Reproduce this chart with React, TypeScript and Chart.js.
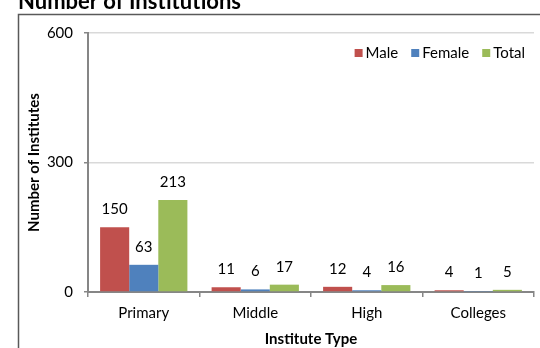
import React, { useEffect, useRef } from "react";
import { Chart, registerables } from "chart.js";

Chart.register(...registerables);

const categories = ["Primary", "Middle", "High", "Colleges"];
const maleValues = [150, 11, 12, 4];
const femaleValues = [63, 6, 4, 1];
const totalValues = [213, 17, 16, 5];
const seriesNames = ["Male", "Female", "Total"];
const seriesColors = ["#C0504D", "#4F81BD", "#9BBB59"];
const yMin = 0;
const yMax = 600;
const yStep = 300;
const chartTitle = "Number of Institutions";
const xTitle = "Institute Type";
const yTitle = "Number of Institutes";

const FONT = "Lato";
const FS = 15;

const framePlugin = {
  id: "frameTitle",
  afterDraw(chart: any) {
    const ctx = chart.ctx;
    ctx.save();
    ctx.strokeStyle = "#595959";
    ctx.lineWidth = 1.5;
    ctx.beginPath();
    ctx.moveTo(18.5, 348);
    ctx.lineTo(18.5, 14.5);
    ctx.lineTo(540, 14.5);
    ctx.stroke();
    ctx.fillStyle = "#000";
    ctx.font = `bold 22px ${FONT}`;
    ctx.textAlign = "left";
    ctx.textBaseline = "alphabetic";
    ctx.fillText(chartTitle, 18, 9);
    ctx.restore();
  },
};

const labelPlugin = {
  id: "valueLabels",
  afterDatasetsDraw(chart: any) {
    const ctx = chart.ctx;
    ctx.save();
    ctx.fillStyle = "#000";
    ctx.font = `${FS}px ${FONT}`;
    ctx.textAlign = "center";
    ctx.textBaseline = "middle";
    chart.data.datasets.forEach((ds: any, i: number) => {
      const meta = chart.getDatasetMeta(i);
      meta.data.forEach((el: any, j: number) => {
        ctx.fillText(String(ds.data[j]), el.x, el.y - 18);
      });
    });
    ctx.restore();
  },
};

const legendPlugin = {
  id: "customLegend",
  afterDraw(chart: any) {
    const ctx = chart.ctx;
    ctx.save();
    ctx.font = `${FS}px ${FONT}`;
    ctx.textBaseline = "middle";
    ctx.textAlign = "left";
    const box = 8;
    const gapBoxText = 3;
    const gapItems = 13;
    const widths = seriesNames.map((n) => box + gapBoxText + ctx.measureText(n).width);
    const total = widths.reduce((a, b) => a + b, 0) + gapItems * (seriesNames.length - 1);
    let x = 525 - total;
    const yc = 53;
    seriesNames.forEach((n, i) => {
      ctx.fillStyle = seriesColors[i];
      ctx.fillRect(x, yc - box / 2, box, box);
      ctx.fillStyle = "#000";
      ctx.fillText(n, x + box + gapBoxText, yc);
      x += widths[i] + gapItems;
    });
    ctx.restore();
  },
};

export default function App() {
  const ref = useRef<HTMLCanvasElement>(null);
  useEffect(() => {
    const values = [maleValues, femaleValues, totalValues];
    const chart = new Chart(ref.current as HTMLCanvasElement, {
      type: "bar",
      data: {
        labels: categories,
        datasets: seriesNames.map((name, i) => ({
          label: name,
          data: values[i],
          backgroundColor: seriesColors[i],
          borderWidth: 0,
          categoryPercentage: 0.783,
          barPercentage: 1,
        })),
      },
      options: {
        animation: false,
        responsive: false,
        layout: { padding: { top: 33, right: 6, left: 0, bottom: 0 } },
        plugins: {
          legend: { display: false },
          title: { display: false },
          tooltip: { enabled: false },
        },
        scales: {
          x: {
            grid: {
              display: true,
              drawOnChartArea: false,
              drawTicks: true,
              tickLength: 5,
              color: "#868686",
              lineWidth: 1.5,
              offset: true,
            },
            border: { display: true, color: "#868686", width: 2 },
            ticks: {
              color: "#000",
              font: { family: FONT, size: FS },
              padding: 7,
              maxRotation: 0,
            },
            title: {
              display: true,
              text: xTitle,
              color: "#000",
              font: { family: FONT, size: FS, weight: "bold" },
              padding: { top: 0, bottom: 0 },
            },
            afterFit: (s: any) => {
              s.height = 56;
            },
          },
          y: {
            min: yMin,
            max: yMax,
            ticks: {
              stepSize: yStep,
              color: "#000",
              font: { family: FONT, size: FS },
              padding: 11,
            },
            grid: {
              color: (c: any) => (c.tick && c.tick.value === 0 ? "rgba(0,0,0,0)" : "#d9d9d9"),
              lineWidth: 1.5,
              tickColor: "#868686",
              tickLength: 4,
            },
            border: { display: true, color: "#868686", width: 2 },
            title: {
              display: true,
              text: yTitle,
              color: "#000",
              font: { family: FONT, size: FS, weight: "bold" },
              padding: { top: 25, bottom: 0 },
            },
            afterFit: (s: any) => {
              s.width = 88;
            },
          },
        },
      } as any,
      plugins: [framePlugin, labelPlugin, legendPlugin],
    });
    return () => chart.destroy();
  }, []);
  return (
    <div style={{ position: "fixed", left: 0, top: 0, width: 540, height: 348, background: "#fff" }}>
      <canvas ref={ref} width={540} height={348} style={{ width: 540, height: 348 }} />
    </div>
  );
}
